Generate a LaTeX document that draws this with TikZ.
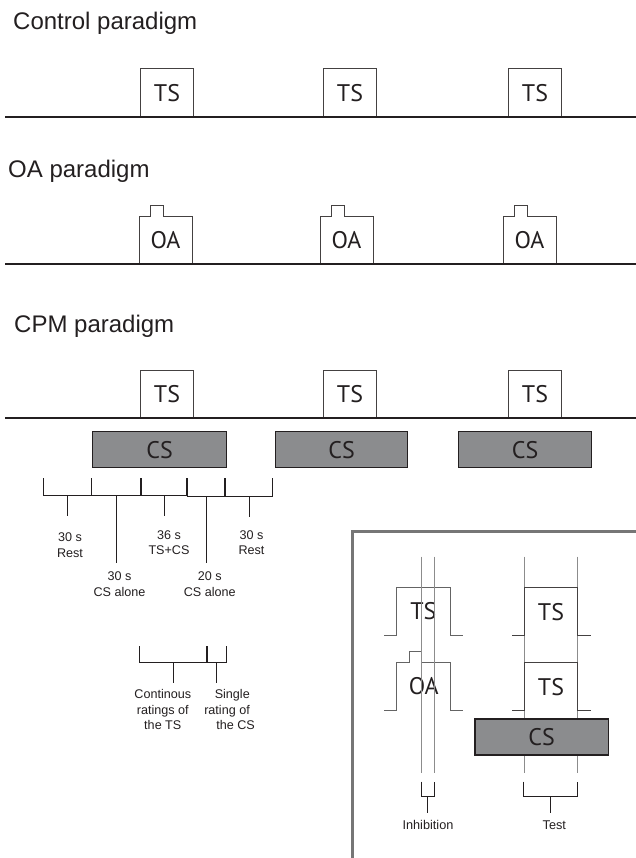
\documentclass[tikz,border=0pt]{standalone}
\usepackage{fontspec}
\setmainfont{Liberation Sans}
\newfontfamily\boxfont{PT Sans}
\definecolor{ink}{RGB}{35,31,32}
\definecolor{csfill}{RGB}{139,140,142}
\definecolor{framegray}{RGB}{118,118,118}
\definecolor{guide}{RGB}{140,140,140}
\definecolor{pulse}{RGB}{100,100,100}
\begin{document}
\begin{tikzpicture}[x=1pt,y=-1pt,
  heading/.style={anchor=base west, font=\fontsize{24}{28}\selectfont, text=ink, inner sep=0},
  timeline/.style={draw=ink, line width=1.4},
  tsbox/.style={draw=ink!85, line width=1, fill=white, minimum width=53, minimum height=47.5,
    inner sep=0, anchor=south west, font=\boxfont\fontsize{24}{28}\selectfont, text=ink},
  boxtext/.style={inner sep=0, font=\boxfont\fontsize{24}{28}\selectfont, text=ink},
  oashape/.style={draw=ink!85, line width=1, fill=white},
  csbox/.style={draw=ink, line width=1.2, fill=csfill, inner sep=0, anchor=north west,
    minimum height=36, font=\boxfont\fontsize{24}{28}\selectfont, text=ink},
  brk/.style={draw=ink, line width=1},
  brkthick/.style={draw=ink, line width=1.8},
  lbl/.style={inner sep=0, align=center, font=\fontsize{12.6}{15.4}\selectfont, text=ink},
  guideline/.style={draw=guide, line width=0.9},
  pulseline/.style={draw=pulse, line width=1},
  frame/.style={draw=framegray, line width=3}
]
\useasboundingbox (0,0) rectangle (635,858);

% ---------------- Control paradigm ----------------
\node[heading] (hctrl) at (13,30) {Control paradigm};
\coordinate (ctrlL) at (5,117);
\coordinate (ctrlR) at (636,117);
\node[tsbox] (cts1) at (140,117) {TS};
\node[tsbox] (cts2) at (323,117) {TS};
\node[tsbox] (cts3) at (508,117) {TS};
\draw[timeline] (ctrlL) -- (ctrlR);

% ---------------- OA paradigm ----------------
\node[heading] (hoa) at (8,177.5) {OA paradigm};
\coordinate (oaL) at (5,264);
\coordinate (oaR) at (636,264);
\foreach \l/\n in {139/1,320/2,503/3}{
  \draw[oashape] (\l,264) -- (\l,216.5) -- ({\l+11},216.5) -- ({\l+11},205.5) -- ({\l+24},205.5)
     -- ({\l+24},216.5) -- ({\l+53},216.5) -- ({\l+53},264);
  \node[boxtext] (oa\n) at ({\l+26.5},240.5) {OA};
}
\draw[timeline] (oaL) -- (oaR);

% ---------------- CPM paradigm ----------------
\node[heading] (hcpm) at (14,332) {CPM paradigm};
\coordinate (cpmL) at (5,418);
\coordinate (cpmR) at (636,418);
\node[tsbox] (pts1) at (140,418) {TS};
\node[tsbox] (pts2) at (323,418) {TS};
\node[tsbox] (pts3) at (508,418) {TS};
\draw[timeline] (cpmL) -- (cpmR);
\node[csbox, minimum width=134] (pcs1) at (92,431) {CS};
\node[csbox, minimum width=132] (pcs2) at (275,431) {CS};
\node[csbox, minimum width=133] (pcs3) at (458,431) {CS};

% timing brackets
\draw[brk] (43.3,478.3) -- (43.3,495) -- (186.7,495);
\draw[brk] (91,478.3) -- (91,495);
\draw[brkthick] (140.7,478.3) -- (140.7,495);
\draw[brkthick] (186.7,478.3) -- (186.7,496);
\draw[brk] (186.7,496) -- (272.7,496) -- (272.7,478.3);
\draw[brkthick] (225,478.3) -- (225,496);
\draw[brk] (67.3,495) -- (67.3,516);
\draw[brk] (116,495) -- (116,563.3);
\draw[brk] (164,495) -- (164,516);
\draw[brk] (206,496) -- (206,563.3);
\draw[brk] (249,496) -- (249,516.7);

\node[lbl] (l1) at (70,545) {30 s\\Rest};
\node[lbl] (l2) at (119.5,584.3) {30 s\\CS alone};
\node[lbl] (l3) at (169,542.6) {36 s\\TS+CS};
\node[lbl] (l4) at (209.8,584.3) {20 s\\CS alone};
\node[lbl] (l5) at (251.5,542.6) {30 s\\Rest};

% rating brackets
\draw[brk] (139.3,646) -- (139.3,662.7) -- (226,662.7) -- (226,646);
\draw[brkthick] (206.7,646) -- (206.7,662.7);
\draw[brk] (173.3,662.7) -- (173.3,683.3);
\draw[brk] (216.7,662.7) -- (216.7,683.3);
\node[lbl, font=\fontsize{12.6}{15.8}\selectfont] (r1) at (162.8,709.5) {Continous\\ratings of\\the TS};
\node[lbl, align=right, font=\fontsize{12.6}{15.8}\selectfont, anchor=east] (r2) at (250,709.5) {Single\\rating of\\the CS\hspace*{-5pt}};

% ---------------- Inset ----------------
\draw[frame] (352.3,531.7) rectangle (645,870);

% left group (inhibition)
\draw[pulseline] (384,635) -- (396.7,635) -- (396.7,587.3) -- (450,587.3) -- (450,635) -- (462.7,635);
\node[boxtext] (its) at (423.3,611.5) {TS};
\draw[pulseline] (384,710) -- (396.7,710) -- (396.7,662.3) -- (409,662.3) -- (409,651.3) -- (421,651.3)
   -- (421,662.3) -- (450,662.3) -- (450,710) -- (462.7,710);
\node[boxtext] (ioa) at (423.8,686.5) {OA};
\draw[guideline] (421,556.7) -- (421,772.7);
\draw[guideline] (434.3,556.7) -- (434.3,772.7);
\draw[brk] (421,781.7) -- (421,796.7) -- (434.3,796.7) -- (434.3,781.7);
\draw[brk] (427.7,796.7) -- (427.7,813.3);
\node[lbl, font=\fontsize{12.7}{15}\selectfont] (inh) at (428,825) {Inhibition};

% right group (test)
\draw[guideline] (524.3,556.7) -- (524.3,772.7);
\draw[guideline] (577.7,556.7) -- (577.7,772.7);
\draw[draw=ink!85, line width=1] (512.3,635) -- (524.3,635) -- (524.3,587.3) -- (577.7,587.3) -- (577.7,635) -- (590.7,635);
\node[boxtext] (rts1) at (551,612) {TS};
\draw[draw=ink!85, line width=1] (512.3,710) -- (524.3,710) -- (524.3,662.3) -- (577.7,662.3) -- (577.7,710) -- (590.7,710);
\node[boxtext] (rts2) at (551,687) {TS};
\node[csbox, minimum width=133.4] (rcs) at (474.3,718.3) {CS};
\draw[brk] (523.3,781.7) -- (523.3,796.7) -- (577.7,796.7) -- (577.7,781.7);
\draw[brk] (550.7,796.7) -- (550.7,813.3);
\node[lbl, font=\fontsize{12.7}{15}\selectfont] (tst) at (554.3,825) {Test};
\end{tikzpicture}
\end{document}
